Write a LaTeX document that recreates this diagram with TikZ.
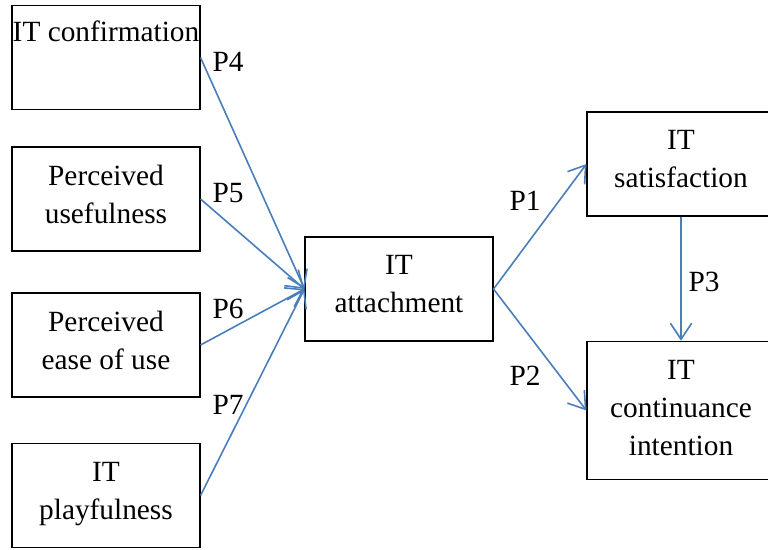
\documentclass[tikz,border=0pt]{standalone}
\usepackage{fontspec}
\setmainfont{Liberation Serif}
\usetikzlibrary{arrows.meta}
\definecolor{linkblue}{RGB}{74,126,187}
\tikzset{
  box/.style={draw=black, line width=0.8pt, minimum width=141pt, minimum height=78pt,
    align=center, inner sep=0pt, text depth=7pt, font=\fontsize{22}{28.5}\selectfont},
  link/.style={draw=linkblue, line width=1.2pt, -{Straight Barb[length=12pt,width=16pt]}},
  plab/.style={font=\fontsize{22}{25}\selectfont, inner sep=0pt}
}
\begin{document}
\begin{tikzpicture}[x=0.75pt,y=-0.75pt]
    \useasboundingbox (0,0) rectangle (768,550);

    \node[box] (conf) at (106,57.5) {};
    \node[plab, anchor=north] (conftxt) at (106,21) {IT confirmation};
    \node[box] (useful) at (106,199) {Perceived\\usefulness};
    \node[box] (ease) at (106,345) {Perceived\\ease of use};
    \node[box] (play) at (106,495.5) {IT\\playfulness};
    \node[box] (attach) at (399,289) {IT\\attachment};
    \node[box] (satis) at (681,164) {IT\\satisfaction};
    \node[box, minimum height=104pt, text depth=4pt] (intent) at (681,410.5) {IT\\continuance\\intention};

    \draw[link] (conf.east) -- (attach.west);
    \draw[link] (useful.east) -- (attach.west);
    \draw[link] (ease.east) -- (attach.west);
    \draw[link] (play.east) -- (attach.west);
    \draw[link] (attach.east) -- (satis.west);
    \draw[link] (attach.east) -- (intent.west);
    \draw[link] (satis.south) -- (intent.north);

    \node[plab] (p4) at (228,62) {P4};
    \node[plab] (p5) at (228,193) {P5};
    \node[plab] (p6) at (228,309) {P6};
    \node[plab] (p7) at (228,405) {P7};
    \node[plab] (p1) at (525,201) {P1};
    \node[plab] (p2) at (525,376) {P2};
    \node[plab] (p3) at (704,282) {P3};
  \end{tikzpicture}
\end{document}
